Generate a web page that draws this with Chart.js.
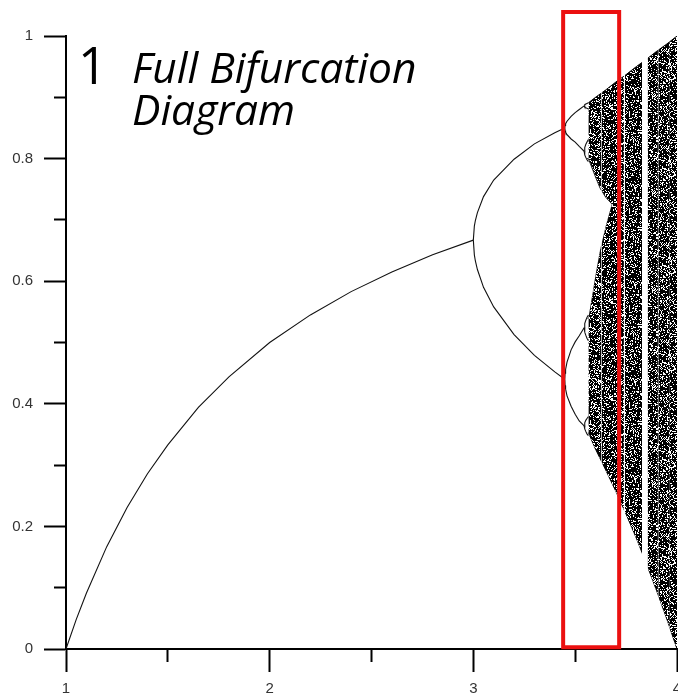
<!DOCTYPE html>
<html><head><meta charset="utf-8">
<script src="https://cdn.jsdelivr.net/npm/chart.js@4.4.1/dist/chart.umd.min.js"></script>
<style>
html,body{margin:0;padding:0;background:#fff;}
#wrap{position:relative;width:678px;height:700px;overflow:hidden;background:#fff;}
#c{position:absolute;left:0;top:0;}
.num{position:absolute;left:78px;top:39px;font-family:'Open Sans',sans-serif;font-size:51px;line-height:50px;color:#000;white-space:nowrap;}
.ttl{position:absolute;left:132px;top:46px;font-family:'Open Sans',sans-serif;font-style:italic;font-size:42.5px;line-height:42px;color:#000;white-space:nowrap;}
</style>
</head><body>
<div id="wrap">
<canvas id="c" width="678" height="700"></canvas>
<div class="num">1</div>
<div class="ttl">Full Bifurcation<br>Diagram</div>
</div>
<script>
// ---- values ----
const xTicks = [1, 1.5, 2, 2.5, 3, 3.5, 4];
const yTicks = [0, 0.1, 0.2, 0.3, 0.4, 0.5, 0.6, 0.7, 0.8, 0.9, 1];

// stable branch (period 1)
const stableR = [1, 1.05, 1.1, 1.2, 1.3, 1.4, 1.5, 1.65, 1.8, 2, 2.2, 2.4, 2.6, 2.8, 3];
const stableX = [0, 0.048, 0.091, 0.167, 0.231, 0.286, 0.333, 0.394, 0.444, 0.5, 0.545, 0.583, 0.615, 0.643, 0.667];

// period 2
const p2R = [3, 3.005, 3.01, 3.02, 3.05, 3.1, 3.2, 3.3, 3.4, 3.449];
const p2Upper = [0.667, 0.690, 0.699, 0.712, 0.738, 0.765, 0.799, 0.824, 0.842, 0.850];
const p2Lower = [0.667, 0.643, 0.633, 0.619, 0.590, 0.558, 0.513, 0.479, 0.452, 0.440];

// period 4
const p4R = [3.449, 3.4505, 3.453, 3.46, 3.48, 3.5, 3.52, 3.544];
const p4A = [0.850, 0.854, 0.857, 0.861, 0.869, 0.875, 0.880, 0.886];
const p4B = [0.850, 0.846, 0.843, 0.839, 0.832, 0.827, 0.820, 0.812];
const p4C = [0.440, 0.450, 0.456, 0.468, 0.488, 0.501, 0.511, 0.524];
const p4D = [0.440, 0.430, 0.424, 0.413, 0.396, 0.383, 0.372, 0.364];

// period 8
const p8R = [3.544, 3.547, 3.552, 3.558, 3.565];
const p8A1 = [0.886, 0.888, 0.889, 0.890, 0.891];
const p8A2 = [0.886, 0.884, 0.883, 0.882, 0.881];
const p8B1 = [0.812, 0.818, 0.823, 0.827, 0.831];
const p8B2 = [0.812, 0.806, 0.802, 0.798, 0.795];
const p8C1 = [0.524, 0.531, 0.536, 0.541, 0.545];
const p8C2 = [0.524, 0.517, 0.512, 0.507, 0.503];
const p8D1 = [0.364, 0.369, 0.373, 0.376, 0.379];
const p8D2 = [0.364, 0.359, 0.355, 0.351, 0.348];

// chaotic band envelope
const chaosR = [3.565, 3.6, 3.65, 3.7, 3.75, 3.8, 3.85, 3.9, 3.95, 4];
const chaosTop = [0.891, 0.900, 0.912, 0.925, 0.937, 0.950, 0.962, 0.975, 0.987, 1.0];
const chaosBottom = [0.353, 0.326, 0.292, 0.257, 0.220, 0.181, 0.139, 0.095, 0.049, 0.0];

// gap between the two chaotic bands
const gapR = [3.558, 3.565, 3.6, 3.622, 3.65, 3.68];
const gapTop = [0.800, 0.800, 0.770, 0.752, 0.737, 0.726];
const gapBottom = [0.540, 0.540, 0.610, 0.651, 0.690, 0.726];

// periodic windows (white stripes)
const windowStart = [3.626, 3.738, 3.828, 3.905, 3.960];
const windowEnd   = [3.631, 3.745, 3.857, 3.910, 3.963];

// highlighted region (red box)
const boxR = [3.441, 3.716];
const boxX = [0.003, 1.039];

// ---- build chart ----
const pts = (xs, ys) => xs.map((x, i) => ({x: x, y: ys[i]}));
const canvas = document.getElementById('c');
const ctx = canvas.getContext('2d');

function makeTexture() {
  const n = 97;
  const t = document.createElement('canvas'); t.width = n; t.height = n;
  const g = t.getContext('2d');
  const img = g.createImageData(n, n);
  for (let y = 0; y < n; y++) for (let x = 0; x < n; x++) {
    let h = (Math.imul(x, 374761393) + Math.imul(y, 668265263)) | 0;
    h = Math.imul(h ^ (h >>> 13), 1274126177);
    h = h ^ (h >>> 16);
    const dark = (h & 255) < 190;
    const i = (y * n + x) * 4;
    const v = dark ? 0 : 255;
    img.data[i] = v; img.data[i+1] = v; img.data[i+2] = v; img.data[i+3] = 255;
  }
  g.putImageData(img, 0, 0);
  return ctx.createPattern(t, 'repeat');
}
const texture = makeTexture();

const lineDS = (xs, ys) => ({
  data: pts(xs, ys), borderColor: '#111', borderWidth: 1.1, pointRadius: 0,
  fill: false, tension: 0, order: 1
});

const datasets = [];
// 0,1 chaos
datasets.push({data: pts(chaosR, chaosTop), borderColor: '#000', borderWidth: 1, pointRadius: 0,
  backgroundColor: texture, fill: '+1', order: 4});
datasets.push({data: pts(chaosR, chaosBottom), borderColor: '#000', borderWidth: 1, pointRadius: 0,
  fill: false, order: 4});
// 2,3 gap
datasets.push({data: pts(gapR, gapTop), borderColor: '#222', borderWidth: 1, pointRadius: 0,
  backgroundColor: '#fff', fill: '+1', order: 3});
datasets.push({data: pts(gapR, gapBottom), borderColor: '#222', borderWidth: 1, pointRadius: 0,
  fill: false, order: 3});
// windows
windowStart.forEach((a, i) => {
  datasets.push({data: [{x: a, y: 1.0}, {x: windowEnd[i], y: 1.0}], borderWidth: 0, pointRadius: 0,
    backgroundColor: '#fff', fill: {value: 0.004}, order: 2});
});
// branches
datasets.push(lineDS(stableR, stableX));
datasets.push(lineDS(p2R, p2Upper));
datasets.push(lineDS(p2R, p2Lower));
[p4A, p4B, p4C, p4D].forEach(s => datasets.push(lineDS(p4R, s)));
[p8A1, p8A2, p8B1, p8B2, p8C1, p8C2, p8D1, p8D2].forEach(s => datasets.push(lineDS(p8R, s)));
// red box
datasets.push({
  data: [{x: boxR[0], y: boxX[0]}, {x: boxR[0], y: boxX[1]}, {x: boxR[1], y: boxX[1]},
         {x: boxR[1], y: boxX[0]}, {x: boxR[0], y: boxX[0]}, {x: boxR[0], y: boxX[1]}],
  borderColor: 'rgb(235,16,16)', borderWidth: 4, pointRadius: 0, fill: false,
  borderJoinStyle: 'miter', borderCapStyle: 'butt', clip: false, order: 0
});

const isMajorX = v => Math.abs(v - Math.round(v)) < 1e-6;
const isMajorY = v => Math.round(v * 10) % 2 === 0;

new Chart(canvas, {
  type: 'line',
  data: {datasets: datasets},
  options: {
    responsive: false, animation: false, events: [],
    layout: {padding: {top: 36, right: 1, left: 0, bottom: 0}},
    plugins: {legend: {display: false}, tooltip: {enabled: false}, title: {display: false}},
    scales: {
      x: {
        type: 'linear', min: 1, max: 4,
        afterBuildTicks: s => { s.ticks = xTicks.map(v => ({value: v})); },
        afterFit: s => { s.height = 51; s.paddingRight = 0; s.paddingLeft = 0; },
        border: {display: true, color: '#000', width: 2},
        grid: {drawOnChartArea: false, drawTicks: true, tickLength: 23, tickWidth: 2, tickColor: '#000',
          tickBorderDash: c => (c.tick && isMajorX(c.tick.value)) ? [] : [12, 100]},
        ticks: {autoSkip: false, maxRotation: 0, padding: 8, color: '#333',
          font: {family: 'Liberation Sans', size: 15},
          callback: v => isMajorX(v) ? String(Math.round(v)) : ''}
      },
      y: {
        type: 'linear', min: 0, max: 1,
        afterBuildTicks: s => { s.ticks = yTicks.map(v => ({value: v})); },
        afterFit: s => { s.width = 66; },
        border: {display: true, color: '#000', width: 2},
        grid: {drawOnChartArea: false, drawTicks: true, tickLength: 22, tickWidth: 2, tickColor: '#000',
          tickBorderDash: c => (c.tick && isMajorY(c.tick.value)) ? [] : [0, 10, 12, 100]},
        ticks: {autoSkip: false, padding: 11, color: '#333',
          font: {family: 'Liberation Sans', size: 15},
          callback: v => isMajorY(v) ? String(Math.round(v * 10) / 10) : ''}
      }
    }
  }
});
</script>
</body></html>
